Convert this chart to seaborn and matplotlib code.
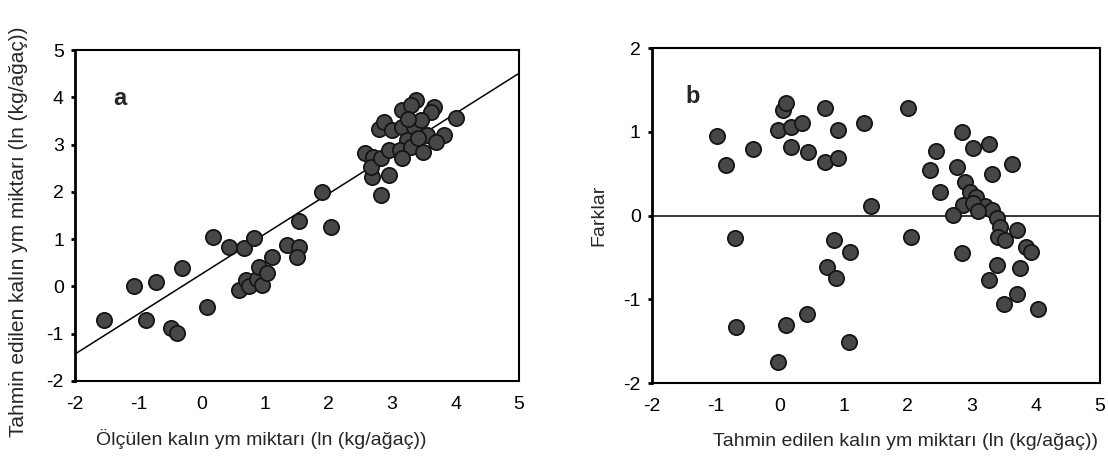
import numpy as np
import pandas as pd
import matplotlib
matplotlib.use("Agg")
import matplotlib.pyplot as plt
import seaborn as sns

# ---- Panel a: measured vs predicted ----
meas_a = [-1.55, -1.07, -0.73, -0.88, -0.48, -0.39, -0.31, 0.08, 0.18, 0.42, 0.66, 0.82,
          0.58, 0.69, 0.75, 0.87, 0.90, 0.95, 1.03, 1.11, 1.34, 1.53, 1.50, 1.53, 2.04, 1.90,
          2.82, 2.69, 2.95, 2.58, 2.70, 2.66, 2.82, 2.95, 2.79, 2.87, 3.00, 3.16, 3.37, 3.30,
          3.66, 3.62, 3.16, 3.34, 3.24, 3.13, 3.29, 3.16, 3.45, 3.55, 3.82, 3.69, 3.48, 4.00,
          3.25, 3.40]
pred_a = [-0.71, 0.00, 0.10, -0.71, -0.88, -0.98, 0.40, -0.43, 1.04, 0.84, 0.81, 1.02,
          -0.07, 0.14, 0.00, 0.16, 0.42, 0.03, 0.28, 0.63, 0.88, 0.84, 0.63, 1.39, 1.26, 1.99,
          1.93, 2.32, 2.36, 2.82, 2.75, 2.53, 2.71, 2.89, 3.34, 3.48, 3.31, 3.73, 3.94, 3.85,
          3.80, 3.70, 3.38, 3.38, 3.10, 2.89, 2.96, 2.71, 3.52, 3.20, 3.20, 3.06, 2.85, 3.56,
          3.55, 3.15]
line_x = [-2.0, 5.0]
line_y = [-1.43, 4.51]

# ---- Panel b: predicted vs residual ----
pred_b = [-0.98, -0.85, -0.42, -0.03, 0.05, 0.09, 0.17, 0.35, 0.17, 0.44, 0.70, 0.70, 0.91,
          0.90, 1.31, 2.00, 1.43, 2.84, 3.02, 3.27, 2.44, 2.34, 2.76, 3.31, 3.62, 2.50, 2.89,
          2.97, 3.07, 2.86, 2.71, 3.20, 3.31, 3.39, 3.44, 3.41, 3.52, 3.70, 3.85, 3.93, 3.02,
          3.10, 2.05, 2.84, 3.39, 3.75, 3.26, 3.71, 3.50, 4.03, 1.08, 1.09, -0.70, -0.68,
          -0.03, 0.10, 0.43, 0.74, 0.87, 0.84]
resid_b = [0.95, 0.60, 0.79, 1.02, 1.26, 1.35, 1.06, 1.11, 0.82, 0.76, 0.64, 1.29, 0.69,
           1.02, 1.11, 1.28, 0.12, 1.00, 0.81, 0.85, 0.77, 0.54, 0.58, 0.50, 0.62, 0.28, 0.40,
           0.28, 0.22, 0.13, 0.01, 0.11, 0.07, -0.03, -0.13, -0.25, -0.29, -0.17, -0.37, -0.43,
           0.15, 0.05, -0.25, -0.45, -0.59, -0.62, -0.77, -0.93, -1.06, -1.11, -1.51, -0.43,
           -0.27, -1.33, -1.75, -1.31, -1.17, -0.61, -0.75, -0.29]

xticks = [-2, -1, 0, 1, 2, 3, 4, 5]
yticks_a = [-2, -1, 0, 1, 2, 3, 4, 5]
yticks_b = [-2, -1, 0, 1, 2]

xlabel_a = "Ölçülen kalın ym miktarı (ln (kg/ağaç))"
ylabel_a = "Tahmin edilen kalın ym miktarı (ln (kg/ağaç))"
xlabel_b = "Tahmin edilen kalın ym miktarı (ln (kg/ağaç))"
ylabel_b = "Farklar"

sns.set_style("white")
plt.rcParams['font.family'] = ['Liberation Sans', 'DejaVu Sans']

fig = plt.figure(figsize=(11.08, 4.76), dpi=100)
ax1 = fig.add_axes([0.0677, 0.1996, 0.4007, 0.695])
ax2 = fig.add_axes([0.5884, 0.195, 0.4043, 0.704])

dfa = pd.DataFrame({"x": meas_a, "y": pred_a})
dfb = pd.DataFrame({"x": pred_b, "y": resid_b})

mk = dict(s=120, color="#474747", edgecolor="#151515", linewidth=1.3, zorder=3)
sns.scatterplot(data=dfa, x="x", y="y", ax=ax1, **mk)
sns.lineplot(x=line_x, y=line_y, ax=ax1, color="black", linewidth=1.1, zorder=2)
sns.scatterplot(data=dfb, x="x", y="y", ax=ax2, **mk)
ax2.axhline(0, color="black", linewidth=1.1, zorder=2)

for ax, yt in ((ax1, yticks_a), (ax2, yticks_b)):
    ax.set_xlim(-2, 5)
    ax.set_ylim(yt[0], yt[-1])
    ax.set_xticks(xticks)
    ax.set_yticks(yt)
    ax.set_xticklabels([str(t) for t in xticks])
    ax.set_yticklabels([str(t) for t in yt])
    ax.tick_params(axis='both', labelsize=14, colors='black')
    ax.tick_params(axis='y', direction='out', length=3, width=2, pad=5, left=True)
    ax.tick_params(axis='x', length=0, pad=11, bottom=True)
    for sp in ax.spines.values():
        sp.set_visible(True)
        sp.set_color("black")
        sp.set_linewidth(1.5)
    ax.spines['left'].set_linewidth(2)

ax1.set_xlabel(xlabel_a, fontsize=14)
ax1.set_ylabel(ylabel_a, fontsize=15)
ax1.xaxis.set_label_coords(0.42, -0.145)
ax1.yaxis.set_label_coords(-0.106, 0.45)
ax2.set_xlabel(xlabel_b, fontsize=14)
ax2.set_ylabel(ylabel_b, fontsize=14)
ax2.xaxis.set_label_coords(0.565, -0.15)
ax2.yaxis.set_label_coords(-0.10, 0.5)

ax1.text(0.10, 0.855, "a", transform=ax1.transAxes, fontsize=17, fontweight='bold',
         ha='center', va='center')
ax2.text(0.09, 0.855, "b", transform=ax2.transAxes, fontsize=17, fontweight='bold',
         ha='center', va='center')

fig.savefig("out.png", dpi=100)
